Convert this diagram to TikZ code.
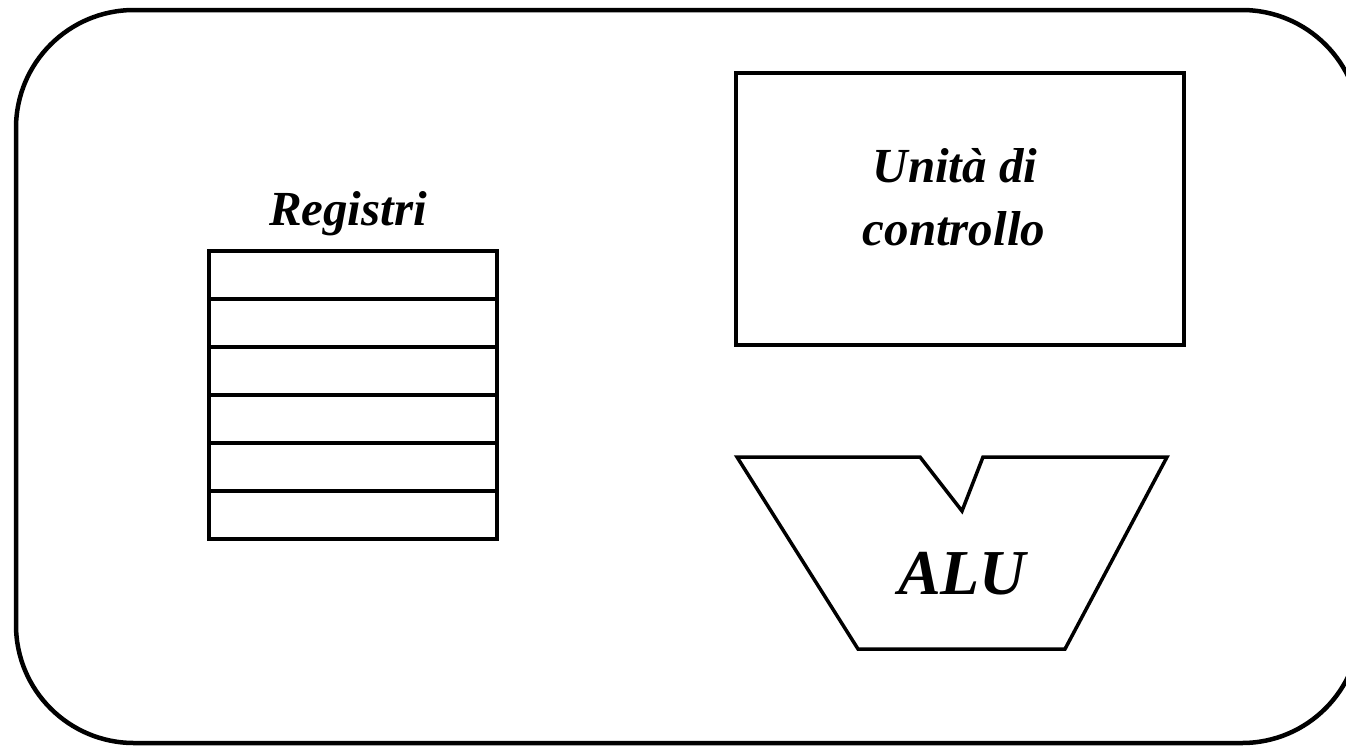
\documentclass[tikz,border=0pt]{standalone}
\usepackage{fontspec}
\setmainfont{Liberation Serif}
\begin{document}
\begin{tikzpicture}[x=1pt,y=-1pt,
  lbl/.style={font=\fontsize{49}{63}\selectfont\bfseries\itshape, inner sep=0pt, anchor=base},
  regrow/.style={draw, line width=3.5pt, minimum width=288pt, minimum height=48pt, inner sep=0pt, anchor=north west},
  box/.style={draw, line width=3.5pt}]
\useasboundingbox (0,0) rectangle (1346,747);
% outer container
\draw[line width=4.5pt, rounded corners=118pt] (16,10) rectangle (1360,743);
% registers
\node[lbl] (reglabel) at (348,225) {Registri};
\foreach \i in {0,...,5}{
  \node[regrow] (r\i) at (207,{249+48*\i}) {};
}
% control unit
\draw[box] (736,73) rectangle (1184,345);
\node[lbl] (cu1) at (955,182) {Unità di};
\node[lbl] (cu2) at (954,245) {controllo};
% ALU
\draw[box, line join=miter] (737,457) -- (920,457) -- (962,511) -- (983,457) -- (1167,457) -- (1065,649) -- (858,649) -- cycle;
\node[lbl, font=\fontsize{64}{72}\selectfont\bfseries\itshape] (alu) at (962,594) {ALU};
\end{tikzpicture}
\end{document}
